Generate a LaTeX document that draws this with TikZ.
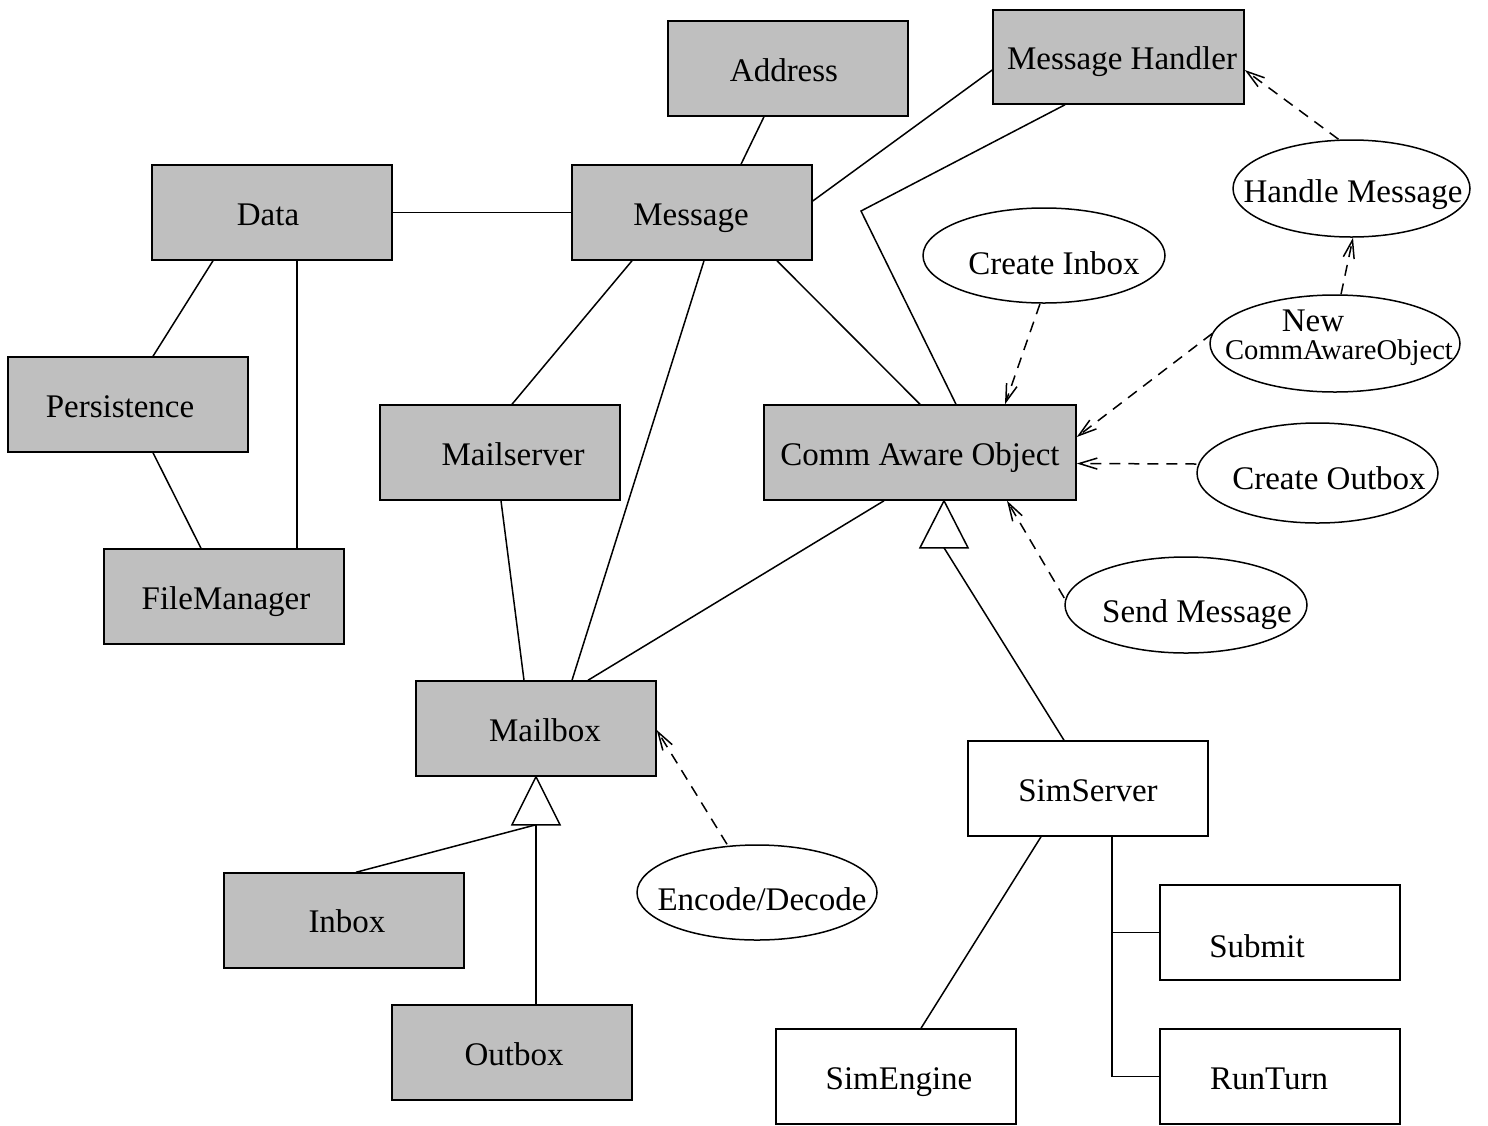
\documentclass[tikz,border=0pt]{standalone}
\usepackage{fontspec}
\setmainfont{Liberation Serif}
\usetikzlibrary{shapes.geometric,arrows.meta}
\definecolor{boxgray}{RGB}{191,191,191}
\begin{document}
\begin{tikzpicture}[x=1pt,y=-1pt,
  gbox/.style={draw,fill=boxgray,line width=1.5pt,minimum width=240pt,minimum height=95pt,inner sep=0pt},
  wbox/.style={draw,fill=white,line width=1.5pt,minimum width=240pt,minimum height=95pt,inner sep=0pt},
  ucase/.style={draw,ellipse,fill=white,line width=1.5pt,inner sep=0pt},
  lbl/.style={inner sep=0pt,text height=22pt,text depth=0pt,font=\fontsize{33}{40}\selectfont},
  slbl/.style={inner sep=0pt,text height=19pt,text depth=0pt,font=\fontsize{28.6}{34}\selectfont},
  conn/.style={line width=1.5pt},
  dep/.style={line width=1.5pt,dash pattern=on 11pt off 8pt,-{Straight Barb[length=18pt,width=11pt,line width=1.5pt]}},
  gen/.style={draw,fill=white,line width=1.5pt,line join=miter}
]
\useasboundingbox (0,0) rectangle (1488,1125);

% class boxes
\node[gbox] (addr) at (788,68.5) {};
\node[gbox,minimum width=251pt,minimum height=94pt] (mh) at (1118.5,57) {};
\node[gbox] (data) at (272,212.5) {};
\node[gbox] (msg) at (692,212.5) {};
\node[gbox] (pers) at (128,404.5) {};
\node[gbox] (mserv) at (500,452.5) {};
\node[gbox,minimum width=312pt] (cao) at (920,452.5) {};
\node[gbox] (fm) at (224,596.5) {};
\node[gbox] (mbox) at (536,728.5) {};
\node[gbox] (inbox) at (344,920.5) {};
\node[gbox] (outbox) at (512,1052.5) {};
\node[wbox] (simserv) at (1088,788.5) {};
\node[wbox] (submit) at (1280,932.5) {};
\node[wbox] (simeng) at (896,1076.5) {};
\node[wbox] (runturn) at (1280,1076.5) {};

% box labels
\node[lbl] (addr-t) at (784,70) {Address};
\node[lbl] (mh-t) at (1122,58) {Message Handler};
\node[lbl] (data-t) at (268,214) {Data};
\node[lbl] (msg-t) at (691,214) {Message};
\node[lbl] (pers-t) at (120,406) {Persistence};
\node[lbl] (mserv-t) at (513,454) {Mailserver};
\node[lbl] (cao-t) at (920,454) {Comm Aware Object};
\node[lbl] (fm-t) at (226,598) {FileManager};
\node[lbl] (mbox-t) at (545,730) {Mailbox};
\node[lbl] (inbox-t) at (347,921) {Inbox};
\node[lbl] (outbox-t) at (514,1054) {Outbox};
\node[lbl] (simserv-t) at (1088,790) {SimServer};
\node[lbl] (submit-t) at (1257,946) {Submit};
\node[lbl] (simeng-t) at (899,1078) {SimEngine};
\node[lbl] (runturn-t) at (1269,1078) {RunTurn};

% use cases
\node[ucase,minimum width=237pt,minimum height=97pt] (hmsg) at (1351.5,188.5) {};
\node[ucase,minimum width=242pt,minimum height=95pt] (cinbox) at (1044,255.5) {};
\node[ucase,minimum width=250pt,minimum height=97pt] (ncao) at (1335,343.5) {};
\node[ucase,minimum width=241pt,minimum height=100pt] (cout) at (1317.5,473) {};
\node[ucase,minimum width=242pt,minimum height=96pt] (sm) at (1186,605) {};
\node[ucase,minimum width=240pt,minimum height=95pt] (ed) at (757,892.5) {};

\node[lbl] (hmsg-t) at (1353,191) {Handle Message};
\node[lbl] (cinbox-t) at (1054,263) {Create Inbox};
\node[lbl] (ncao-t1) at (1313,320) {New};
\node[slbl] (ncao-t2) at (1339,350) {CommAwareObject};
\node[lbl] (cout-t) at (1329,478) {Create Outbox};
\node[lbl] (sm-t) at (1197,611) {Send Message};
\node[lbl] (ed-t) at (762,899) {Encode/Decode};

% associations
\draw[conn] ([xshift=-24pt]addr.south) -- ([xshift=49pt]msg.north);
\draw[conn] (data.east) -- (msg.west);
\draw[conn] ([xshift=-59pt]data.south) -- ([xshift=25pt]pers.north);
\draw[conn] ([xshift=25pt]data.south) -- ([xshift=73pt]fm.north);
\draw[conn] ([xshift=25pt]pers.south) -- ([xshift=-23pt]fm.north);
\draw[conn] ([yshift=11.5pt]msg.east) -- ([yshift=-13pt]mh.west);
\draw[conn] ([xshift=-60pt]msg.south) -- ([xshift=12pt]mserv.north);
\draw[conn] ([xshift=12pt]msg.south) -- ([xshift=36pt]mbox.north);
\draw[conn] ([xshift=85pt]msg.south) -- (cao.north);
\coordinate (bend) at (861,211);
\draw[conn,line join=miter] ([xshift=-53.5pt]mh.south) -- (bend) -- ([xshift=36pt]cao.north);
\draw[conn] ([xshift=1pt]mserv.south) -- ([xshift=-12pt]mbox.north);
\draw[conn] ([xshift=-36pt]cao.south) -- ([xshift=52pt]mbox.north);
\draw[conn] ([xshift=-47pt]simserv.south) -- ([xshift=25pt]simeng.north);
\coordinate (tree) at ([xshift=24pt]simserv.south);
\draw[conn] (tree) |- (runturn.west);
\draw[conn] (submit.west) -- (submit.west -| tree);

% generalisations
\coordinate (caotri) at ([xshift=24pt]cao.south);
\coordinate (caobase) at ([yshift=-47pt]caotri);
\draw[conn] (caobase) -- ([xshift=-24pt]simserv.north);
\draw[gen] (caotri) -- ++(-24,47) -- ++(48,0) -- cycle;
\coordinate (mbtri) at (mbox.south);
\coordinate (mbbase) at ([yshift=-48pt]mbtri);
\draw[conn] (mbbase) -- ([xshift=24pt]outbox.north);
\draw[conn] (mbbase) -- ([xshift=12pt]inbox.north);
\draw[gen] (mbtri) -- ++(-24,48) -- ++(48,0) -- cycle;

% dependencies
\draw[dep] ([xshift=-13pt]hmsg.north) -- ([yshift=-13pt]mh.east);
\draw[dep] ([xshift=6pt]ncao.north) -- ([xshift=1.5pt]hmsg.south);
\draw[dep] ([xshift=-4pt]cinbox.south) -- ([xshift=85pt]cao.north);
\draw[dep] ([xshift=3pt,yshift=10pt]ncao.west) -- ([yshift=15.5pt]cao.east);
\draw[dep] ([yshift=9pt]cout.west) -- ([yshift=-11pt]cao.east);
\draw[dep] ([yshift=7pt]sm.west) -- ([xshift=87pt]cao.south);
\draw[dep] ([xshift=-30pt]ed.north) -- ([yshift=-1.5pt]mbox.east);
\end{tikzpicture}
\end{document}
